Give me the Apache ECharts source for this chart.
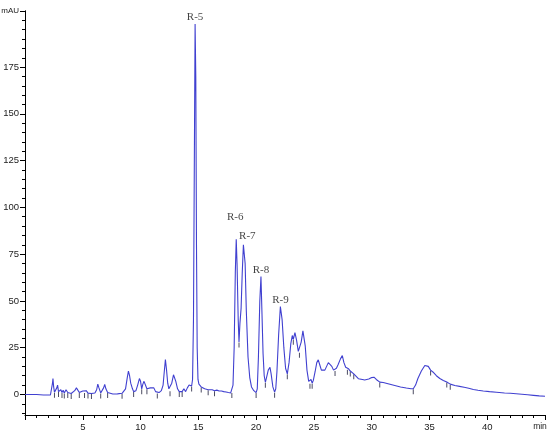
<!DOCTYPE html>
<html>
<head>
<meta charset="utf-8">
<script src="https://cdn.jsdelivr.net/npm/echarts@6/dist/echarts.min.js"></script>
<style>html,body{margin:0;padding:0;background:#fff}#c{width:550px;height:436px}</style>
</head>
<body>
<div id="c"></div>
<script>
// Retention time (min) and absorbance (mAU)
const times = [0,0.5,1.0,1.6,2.2,2.3,2.38,2.42,2.48,2.55,2.65,2.75,2.82,2.9,3.0,3.1,3.2,3.3,3.4,3.55,3.7,3.85,4.0,4.15,4.3,4.45,4.55,4.7,4.85,5.0,5.15,5.3,5.45,5.6,5.75,5.9,6.05,6.2,6.3,6.4,6.55,6.7,6.8,6.9,7.0,7.15,7.3,7.6,8.0,8.4,8.55,8.7,8.85,8.95,9.05,9.15,9.3,9.4,9.5,9.6,9.75,9.9,10.0,10.1,10.2,10.3,10.4,10.55,10.7,10.85,11.0,11.15,11.3,11.45,11.6,11.8,11.95,12.05,12.15,12.25,12.35,12.45,12.55,12.7,12.85,12.95,13.05,13.2,13.35,13.5,13.6,13.75,13.9,14.05,14.2,14.3,14.42,14.5,14.58,14.65,14.72,14.78,14.84,14.9,14.97,15.05,15.15,15.25,15.4,15.55,15.7,15.85,16.0,16.2,16.4,16.6,16.8,17.0,17.2,17.4,17.6,17.8,17.9,18.0,18.1,18.2,18.28,18.35,18.45,18.52,18.6,18.7,18.8,18.9,18.98,19.05,19.15,19.3,19.45,19.6,19.8,20.0,20.1,20.2,20.32,20.42,20.5,20.6,20.7,20.8,20.9,21.05,21.2,21.3,21.45,21.6,21.7,21.8,21.95,22.1,22.25,22.4,22.55,22.7,22.85,23.0,23.13,23.22,23.36,23.5,23.65,23.75,23.9,24.05,24.14,24.25,24.4,24.55,24.66,24.75,24.85,24.95,25.1,25.25,25.38,25.5,25.65,25.8,25.95,26.1,26.25,26.4,26.55,26.7,26.83,26.95,27.1,27.3,27.46,27.6,27.75,27.9,28.0,28.15,28.3,28.45,28.6,28.85,29.0,29.2,29.4,29.57,29.75,30.0,30.2,30.4,30.7,31.0,31.5,32.0,32.5,33.0,33.4,33.6,33.8,34.0,34.3,34.6,34.76,34.9,35.1,35.3,35.6,35.9,36.2,36.5,36.8,37.2,37.6,38.0,38.4,38.8,39.2,39.66,40.2,40.8,41.5,42.0,42.5,43.0,43.5,44.0,44.5,45.0];
const mAU = [0,0,0,-0.3,-0.3,0.5,6,8.5,4,1.2,0.5,3.5,5,1.5,0.8,2.5,1,2.2,0.8,2.5,1,2,0.5,1.5,2,3.5,3,1,0.5,1.8,1,2,0.7,1.3,0.5,1.5,0.8,2.5,5.5,3.5,0.8,1.5,3.5,5.3,3,1,0.4,0.2,0.3,0.6,0.8,3,9,12.5,10,6,3,1.5,0.5,2,5,8.5,7,3,5.5,7,6,3,2,3.5,4.5,3.5,1.5,0.8,1,2,5,12,18.6,13,6,3,2,6,10.5,11,7,3,1.5,2.5,1.5,3,1.5,3.5,5,6,4.5,8,40,120,198,170,80,25,8,5.5,6,4,4.5,3,3.5,2.5,2.2,2.5,2,2.3,1.8,1.8,1.5,1.3,1,0.8,1,5,25,65,83,70,40,28,38,46,65,80,81,70,45,20,9,4,2,1,3,20,50,63,45,22,10,6.5,9,13,14.5,11,4,1.2,3,12,32,47,40,25,14,11,17,27,31.5,29.5,33,29,23,22.5,28,34,35,26,13,7,6,8,6,7.5,12,17,18.5,16,13,12,13,15,17,18,15,13,12.8,14,16,19,20.8,17,14.5,13.5,13.7,12.5,13,11,10,8.4,8.5,8,7.7,7.5,8.2,9,9.2,8,6.6,6.4,5.6,4.8,4,3.4,3,3,5,8.5,12.5,15.5,16.3,15,13,12,10,8.5,7.5,6.6,5.5,4.8,4.3,3.8,3.3,2.6,2.2,1.8,1.5,1.2,0.8,0.6,0.4,0.1,-0.2,-0.5,-0.8,-1];
// Labelled peaks
const peakNames = ['R-5','R-6','R-7','R-8','R-9'];
const peakTimes = [14.72,18.28,18.98,20.42,22.1];
// Integration event markers (times on the trace)
const markerTimes = [2.55,2.9,3.2,3.4,3.7,4.0,4.7,5.15,5.45,5.75,6.55,7.15,8.4,9.4,10.1,10.55,11.45,12.55,13.35,13.6,14.42,15.25,15.85,16.4,17.9,18.52,20.0,20.8,21.6,22.7,23.22,23.75,24.66,24.85,26.83,27.9,28.15,28.45,30.7,33.6,35.1,36.5,36.8];
// Axis ticks
const yLabelValues = [0,25,50,75,100,125,150,175,205];
const yMinorValues = [-10,-5,5,10,15,20,30,35,40,45,55,60,65,70,80,85,90,95,105,110,115,120,130,135,140,145,155,160,165,170,180,185,190,195,200];
const xLabelValues = [5,10,15,20,25,30,35,40,45];

const valueAt = t => mAU[times.indexOf(t)];
const trace = times.map((t,i)=>[t,mAU[i]]);
const peaks = peakTimes.map((t,i)=>({value:[t,valueAt(t)], name:peakNames[i]}));
peaks[1].label = {offset:[-1,-16]};
peaks[2].label = {offset:[3,0]};
const markers = markerTimes.map(t=>[t,valueAt(t)]);

const labelFont = "'Liberation Sans',Arial,sans-serif";
const chart = echarts.init(document.getElementById('c'), null, {renderer:'canvas'});
chart.setOption({
  animation:false,
  backgroundColor:'#fff',
  grid:{left:25,right:5,top:11,bottom:21,containLabel:false,outerBoundsMode:'none'},
  xAxis:{
    type:'value', min:0, max:45, interval:5,
    axisLine:{onZero:false, lineStyle:{color:'#000',width:1}},
    axisTick:{show:true,length:5,lineStyle:{color:'#000'}},
    minorTick:{show:true,splitNumber:5,length:3,lineStyle:{color:'#000'}},
    splitLine:{show:false},
    axisLabel:{
      margin:7, color:'#222', fontSize:9.5, fontFamily:labelFont,
      customValues:xLabelValues,
      formatter:v=> v===45 ? '{r|min}' : String(v),
      rich:{r:{fontSize:8.5,fontFamily:labelFont,color:'#222',padding:[0,10,0,0]}}
    }
  },
  yAxis:[{
    type:'value', min:-11, max:205, position:'left', offset:0,
    axisLine:{show:true,lineStyle:{color:'#000',width:1}},
    axisTick:{show:true,length:5,customValues:yLabelValues,lineStyle:{color:'#000'}},
    splitLine:{show:false},
    axisLabel:{
      margin:6, color:'#222', fontSize:9.5, fontFamily:labelFont,
      customValues:yLabelValues,
      formatter:v=> v===205 ? '{m|mAU}' : String(v),
      rich:{m:{fontSize:8,fontFamily:labelFont,color:'#222'}}
    }
  },{
    type:'value', min:-11, max:205, position:'left', offset:0,
    axisLine:{show:true,lineStyle:{color:'#000',width:1}},
    axisTick:{show:true,length:3,customValues:yMinorValues,lineStyle:{color:'#000'}},
    axisLabel:{show:true,customValues:yMinorValues,formatter:()=>''},
    splitLine:{show:false}
  }],
  series:[{
    type:'line', data:trace, yAxisIndex:0, showSymbol:false, symbol:'none',
    lineStyle:{color:'#4040d0',width:1.1}, silent:true
  },{
    type:'scatter', data:markers, yAxisIndex:0, symbol:'rect', symbolSize:[1,5], symbolOffset:[0,3],
    itemStyle:{color:'#1e1e3a'}, silent:true, z:1
  },{
    type:'scatter', data:peaks, yAxisIndex:0, symbolSize:0, silent:true,
    label:{show:true, position:'top', distance:1, formatter:p=>p.name,
      fontFamily:"'Liberation Serif','Times New Roman',serif", fontSize:11, color:'#111'}
  }]
});
</script>
</body>
</html>
